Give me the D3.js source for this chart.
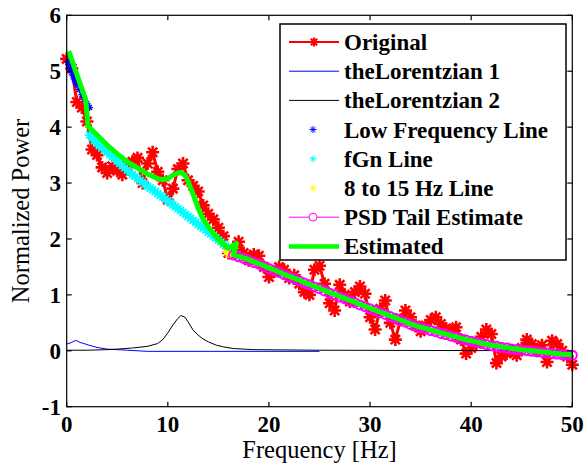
<!DOCTYPE html>
<html>
<head>
<meta charset="utf-8">
<script src="https://cdn.jsdelivr.net/npm/d3@7"></script>
<style>
  body { margin: 0; background: white; }
</style>
</head>
<body>
<div id="chart"></div>
<script>

// original spectrum, sampled every 0.5 Hz from 0 to 50
let originalFreq = d3.range(0, 50.01, 0.5);
let originalVals = [
  5.22, 5.05, 4.45, 4.35, 4.10, 3.60, 3.50, 3.28, 3.18, 3.30,
  3.22, 3.15, 3.30, 3.38, 3.45, 3.00, 3.35, 3.55, 3.20, 3.05,
  2.70, 2.90, 3.25, 3.35, 3.05, 2.95, 2.85, 2.60, 2.45, 2.35,
  2.20, 2.05, 1.75, 1.80, 1.95, 1.75, 1.62, 1.72, 1.70, 1.50,
  1.32, 1.42, 1.50, 1.45, 1.30, 1.35, 1.20, 1.05, 1.00, 1.45,
  1.52, 1.20, 0.85, 0.72, 1.18, 1.00, 0.88, 1.05, 1.15, 1.02,
  0.60, 0.38, 0.75, 0.90, 0.50, 0.20, 0.55, 0.72, 0.60, 0.45,
  0.35, 0.45, 0.55, 0.60, 0.48, 0.40, 0.35, 0.42, 0.20, -0.05,
  0.05, 0.13, 0.25, 0.38, 0.30, -0.22, -0.10, -0.05, 0.00, -0.08,
  0.05, 0.20, 0.12, 0.00, 0.10, -0.20, 0.18, 0.12, 0.00, -0.10,
  -0.25
];

// lorentzian components
let lor1Freq = [0, 0.5, 0.8, 1.0, 1.3, 1.7, 2.2, 3.0, 4.0, 5.0, 6.0, 8.0, 25.0];
let lor1Vals = [0.12, 0.15, 0.18, 0.18, 0.15, 0.13, 0.10, 0.06, 0.03, 0.02, 0.01, -0.01, -0.01];
let lor2Freq = [0, 2, 4, 5, 6.5, 8, 9, 9.5, 10, 10.5, 11, 11.3, 11.7, 12, 12.5, 13, 13.5, 14, 14.8, 15.5, 16.5, 18.5, 25, 50];
let lor2Vals = [0.01, 0.01, 0.02, 0.03, 0.05, 0.08, 0.13, 0.2, 0.32, 0.46, 0.58, 0.63, 0.6, 0.52, 0.37, 0.28, 0.21, 0.16, 0.1, 0.07, 0.04, 0.02, 0.01, 0.0];

// fitted pieces
let lowFreq = [0.125, 0.25, 0.375, 0.5, 0.625, 0.75, 0.875, 1.0, 1.25, 1.5, 1.75, 2.0, 2.25];
let lowVals = [5.16, 5.1, 5.04, 4.98, 4.92, 4.86, 4.81, 4.76, 4.67, 4.58, 4.5, 4.42, 4.35];

let fgnFreq = d3.range(2.25, 16.01, 0.25);
let fgnVals = [
  3.86, 3.81, 3.76, 3.71, 3.67, 3.63, 3.59, 3.55, 3.51, 3.47,
  3.43, 3.39, 3.35, 3.31, 3.27, 3.23, 3.19, 3.15, 3.12, 3.08,
  3.05, 3.01, 2.98, 2.94, 2.91, 2.88, 2.85, 2.81, 2.78, 2.75,
  2.72, 2.68, 2.65, 2.61, 2.58, 2.54, 2.51, 2.47, 2.44, 2.40,
  2.37, 2.33, 2.30, 2.26, 2.23, 2.19, 2.16, 2.12, 2.09, 2.05,
  2.02, 1.98, 1.95, 1.91, 1.88, 1.84
];

let midFreq = [15.8, 16.0, 16.2, 16.4];
let midVals = [1.76, 1.73, 1.74, 1.76];

let tailFreq = d3.range(16.5, 50.01, 0.5);
let tailVals = [
  1.72, 1.69, 1.66, 1.63, 1.59, 1.56, 1.52, 1.48,
  1.45, 1.41, 1.37, 1.33, 1.30, 1.26, 1.22, 1.19, 1.15, 1.12,
  1.08, 1.04, 1.01, 0.97, 0.94, 0.90, 0.87, 0.83, 0.80, 0.76,
  0.73, 0.69, 0.66, 0.62, 0.59, 0.55, 0.52, 0.48, 0.45, 0.42,
  0.40, 0.37, 0.35, 0.32, 0.30, 0.27, 0.25, 0.22, 0.20, 0.18,
  0.16, 0.14, 0.12, 0.10, 0.09, 0.07, 0.06, 0.04, 0.03, 0.02,
  0.01, 0.00, -0.01, -0.02, -0.03, -0.04, -0.05, -0.06, -0.065, -0.07
];

// estimated curve before it joins the tail
let estFreq = [0.2, 1.9, 2.1, 3.0, 4.0, 5.0, 6.0, 7.0, 8.0, 9.0, 9.5, 10.0, 10.5, 11.0, 11.3, 11.7, 12.0, 12.5, 13.0, 13.5, 14.0, 14.5, 15.0, 15.5, 16.0, 16.4, 16.8];
let estVals = [5.36, 4.48, 4.02, 3.86, 3.68, 3.52, 3.38, 3.27, 3.16, 3.08, 3.06, 3.08, 3.14, 3.18, 3.19, 3.14, 3.03, 2.80, 2.55, 2.35, 2.22, 2.10, 2.00, 1.90, 1.83, 1.88, 1.92];

let xTicks = [0, 10, 20, 30, 40, 50];
let yTicks = [-1, 0, 1, 2, 3, 4, 5, 6];

let legendNames = ['Original', 'theLorentzian 1', 'theLorentzian 2', 'Low Frequency Line',
  'fGn Line', '8 to 15 Hz Line', 'PSD Tail Estimate', 'Estimated'];

// setting dimensions
let width = 587,
  height = 464;

let svg = d3.select('#chart')
  .append('svg')
    .attr('width', width)
    .attr('height', height)
    .attr('font-family', "'Liberation Serif', 'Times New Roman', Times, serif")
    .style('background', 'white');

let xScale = d3.scaleLinear().domain([0, 50]).range([66.7, 572.3]);
let yScale = d3.scaleLinear().domain([-1, 6]).range([406.7, 15.3]);

let zip = (fs, vs) => fs.map((f, i) => [f, vs[i]]);

let line = d3.line()
  .x(d => xScale(d[0]))
  .y(d => yScale(d[1]));

// matlab style asterisk
function star(r) {
  let a = r * 0.707;
  return 'M' + (-r) + ',0L' + r + ',0M0,' + (-r) + 'L0,' + r +
    'M' + (-a) + ',' + (-a) + 'L' + a + ',' + a + 'M' + (-a) + ',' + a + 'L' + a + ',' + (-a);
}

let plot = svg.append('g');

function drawLine(data, color, w) {
  plot.append('path')
    .datum(data)
    .attr('fill', 'none')
    .attr('stroke', color)
    .attr('stroke-width', w)
    .attr('stroke-linejoin', 'round')
    .attr('d', line);
}

function drawStars(data, color, r, w) {
  plot.append('g')
    .selectAll('path')
    .data(data)
    .enter()
    .append('path')
    .attr('transform', d => 'translate(' + xScale(d[0]) + ',' + yScale(d[1]) + ')')
    .attr('d', star(r))
    .attr('stroke', color)
    .attr('stroke-width', w)
    .attr('fill', 'none');
}

let original = zip(originalFreq, originalVals);
drawLine(original, '#ff0000', 3);
drawStars(original, '#ff0000', 6.5, 2.6);

drawLine(zip(lor1Freq, lor1Vals), '#0000ff', 1);
drawLine(zip(lor2Freq, lor2Vals), '#000000', 1);

drawStars(zip(lowFreq, lowVals), '#0000ff', 3.5, 1.3);
drawStars(zip(fgnFreq, fgnVals), '#00ffff', 5, 1.6);
drawStars(zip(midFreq, midVals), '#ffff00', 4, 1.4);

let tail = zip(tailFreq, tailVals);
drawLine(tail, '#ff00ff', 1.5);
plot.append('g')
  .selectAll('circle')
  .data(tail)
  .enter()
  .append('circle')
  .attr('cx', d => xScale(d[0]))
  .attr('cy', d => yScale(d[1]) + 0.5)
  .attr('r', 4.5)
  .attr('fill', 'none')
  .attr('stroke', '#ff00ff')
  .attr('stroke-width', 2);

drawLine(zip(estFreq, estVals).concat(tail), '#00ff00', 5);

// axes box with inward ticks on all sides
let x0 = xScale.range()[0], x1 = xScale.range()[1];
let y0 = yScale.range()[0], y1 = yScale.range()[1];
let tickLen = 5;

let axes = svg.append('g')
  .attr('stroke', 'black')
  .attr('stroke-width', 1.2);

axes.append('rect')
  .attr('x', x0)
  .attr('y', y1)
  .attr('width', x1 - x0)
  .attr('height', y0 - y1)
  .attr('fill', 'none');

xTicks.forEach(t => {
  axes.append('line').attr('x1', xScale(t)).attr('x2', xScale(t)).attr('y1', y0).attr('y2', y0 - tickLen);
  axes.append('line').attr('x1', xScale(t)).attr('x2', xScale(t)).attr('y1', y1).attr('y2', y1 + tickLen);
});
yTicks.forEach(t => {
  axes.append('line').attr('y1', yScale(t)).attr('y2', yScale(t)).attr('x1', x0).attr('x2', x0 + tickLen);
  axes.append('line').attr('y1', yScale(t)).attr('y2', yScale(t)).attr('x1', x1).attr('x2', x1 - tickLen);
});

// tick labels
svg.append('g')
  .selectAll('text')
  .data(xTicks)
  .enter()
  .append('text')
  .attr('x', d => xScale(d))
  .attr('y', 432)
  .attr('text-anchor', 'middle')
  .style('font-size', '23px')
  .style('font-weight', 'bold')
  .text(d => d);

svg.append('g')
  .selectAll('text')
  .data(yTicks)
  .enter()
  .append('text')
  .attr('x', 61)
  .attr('y', d => yScale(d))
  .attr('dy', '0.35em')
  .attr('text-anchor', 'end')
  .style('font-size', '23px')
  .style('font-weight', 'bold')
  .text(d => d);

// axis titles
svg.append('text')
  .attr('x', (x0 + x1) / 2)
  .attr('y', 458)
  .attr('text-anchor', 'middle')
  .style('font-size', '24.5px')
  .text('Frequency [Hz]');

svg.append('text')
  .attr('transform', 'translate(28.5,' + ((y0 + y1) / 2) + ') rotate(-90)')
  .attr('text-anchor', 'middle')
  .style('font-size', '24.5px')
  .text('Normalized Power');

// legend
let legend = svg.append('g');
legend.append('rect')
  .attr('x', 280)
  .attr('y', 24)
  .attr('width', 286)
  .attr('height', 236)
  .attr('fill', 'white')
  .attr('stroke', 'black')
  .attr('stroke-width', 1.5);

let rowY = i => 42 + i * 29.2;
let sx0 = 289, sx1 = 339, smid = 314;

legendNames.forEach((name, i) => {
  let y = rowY(i);
  if (i === 0) {
    legend.append('line').attr('x1', sx0).attr('x2', sx1).attr('y1', y).attr('y2', y).attr('stroke', '#ff0000').attr('stroke-width', 2);
    legend.append('path').attr('transform', 'translate(' + smid + ',' + y + ')').attr('d', star(4.5)).attr('stroke', '#ff0000').attr('stroke-width', 2.2);
  } else if (i === 1) {
    legend.append('line').attr('x1', sx0).attr('x2', sx1).attr('y1', y).attr('y2', y).attr('stroke', '#0000ff').attr('stroke-width', 1);
  } else if (i === 2) {
    legend.append('line').attr('x1', sx0).attr('x2', sx1).attr('y1', y).attr('y2', y).attr('stroke', '#000000').attr('stroke-width', 1);
  } else if (i === 3 || i === 4 || i === 5) {
    let c = ['#0000ff', '#00ffff', '#ffff00'][i - 3];
    legend.append('path').attr('transform', 'translate(' + (smid - 1) + ',' + y + ')').attr('d', star(3.5)).attr('stroke', c).attr('stroke-width', 1);
  } else if (i === 6) {
    legend.append('line').attr('x1', sx0).attr('x2', sx1).attr('y1', y).attr('y2', y).attr('stroke', '#ff00ff').attr('stroke-width', 1);
    legend.append('circle').attr('cx', smid - 1).attr('cy', y).attr('r', 4).attr('fill', 'white').attr('stroke', '#ff00ff').attr('stroke-width', 1);
  } else {
    legend.append('line').attr('x1', sx0).attr('x2', sx1).attr('y1', y).attr('y2', y).attr('stroke', '#00ff00').attr('stroke-width', 4.5);
  }
  legend.append('text')
    .attr('x', 344)
    .attr('y', y)
    .attr('dy', '0.35em')
    .style('font-size', '23px')
    .style('font-weight', 'bold')
    .text(name);
});

</script>
</body>
</html>
